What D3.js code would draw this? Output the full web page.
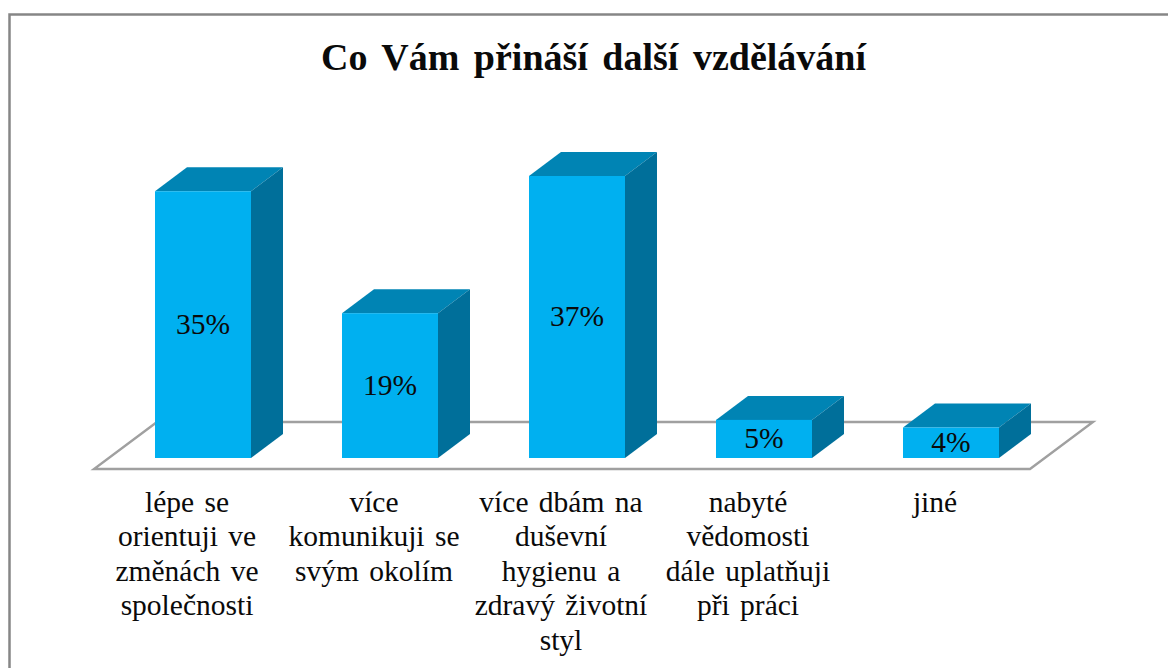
<!DOCTYPE html>
<html><head><meta charset="utf-8">
<script src="https://cdn.jsdelivr.net/npm/d3@7"></script>
<style>
html,body{margin:0;padding:0;background:#fff;overflow:hidden}
svg{display:block}
text{font-family:"Liberation Serif","Times New Roman",serif;fill:#0a0a0a}
</style></head><body>
<svg id="c" width="1168" height="668"></svg>
<script>
const title = "Co Vám přináší další vzdělávání";
const categories = ["lépe se orientuji","více komunikuji","více dbám","nabyté vědomosti","jiné"];
const categoryLines = [
  ["lépe se","orientuji ve","změnách ve","společnosti"],
  ["více","komunikuji se","svým okolím"],
  ["více dbám na","duševní","hygienu a","zdravý životní","styl"],
  ["nabyté","vědomosti","dále uplatňuji","při práci"],
  ["jiné"]
];
const values = [35,19,37,5,4];

const svg = d3.select("#c");
const x = d3.scaleBand().domain(categories).range([109.5,1044.5]).paddingInner(0.4866).paddingOuter(0.2433);
const y = d3.scaleLinear().domain([0,37]).range([458,176]);
const dx = 32, dy = 24;
const poly = pts => pts.map(p=>p.join(",")).join(" ");

// chart frame
svg.append("path").attr("d","M9.5,668V14.5H1168").attr("fill","none").attr("stroke","#868686").attr("stroke-width",2.5);

// title
svg.append("text").attr("x",593.5).attr("y",70).attr("text-anchor","middle")
  .attr("font-size",38).attr("font-weight","bold").attr("word-spacing",5).text(title);

// floor
svg.append("polygon").attr("points",poly([[94,469],[1030,469],[1093,422],[157,422]]))
  .attr("fill","#fff").attr("stroke","#A0A0A0").attr("stroke-width",2.4);

// bars
const g = svg.selectAll("g.bar").data(categories).join("g").attr("class","bar");
g.append("polygon").attr("fill","#0084B4").attr("points",(c,i)=>{
  const l=x(c), r=l+x.bandwidth(), t=y(values[i]);
  return poly([[l,t],[l+dx,t-dy],[r+dx,t-dy],[r,t]]);
});
g.append("polygon").attr("fill","#006F9A").attr("points",(c,i)=>{
  const r=x(c)+x.bandwidth(), t=y(values[i]), b=y(0);
  return poly([[r,t],[r+dx,t-dy],[r+dx,b-dy],[r,b]]);
});
g.append("rect").attr("fill","#00B0F0")
  .attr("x",c=>x(c)).attr("width",x.bandwidth())
  .attr("y",(c,i)=>y(values[i])).attr("height",(c,i)=>y(0)-y(values[i]));
g.append("text").attr("text-anchor","middle").attr("font-size",29.5).attr("dy","0.35em")
  .attr("x",c=>x(c)+x.bandwidth()/2)
  .attr("y",(c,i)=>(y(values[i])+y(0))/2-1)
  .text((c,i)=>values[i]+"%");

// category labels
svg.selectAll("text.cat").data(categories).join("text").attr("class","cat")
  .attr("text-anchor","middle").attr("font-size",29.5).attr("word-spacing",3)
  .each(function(c,i){
    d3.select(this).selectAll("tspan").data(categoryLines[i]).join("tspan")
      .attr("x",x(c)+x.bandwidth()/2-16)
      .attr("y",(d,j)=>512+j*34.4)
      .text(d=>d);
  });
</script>
</body></html>
